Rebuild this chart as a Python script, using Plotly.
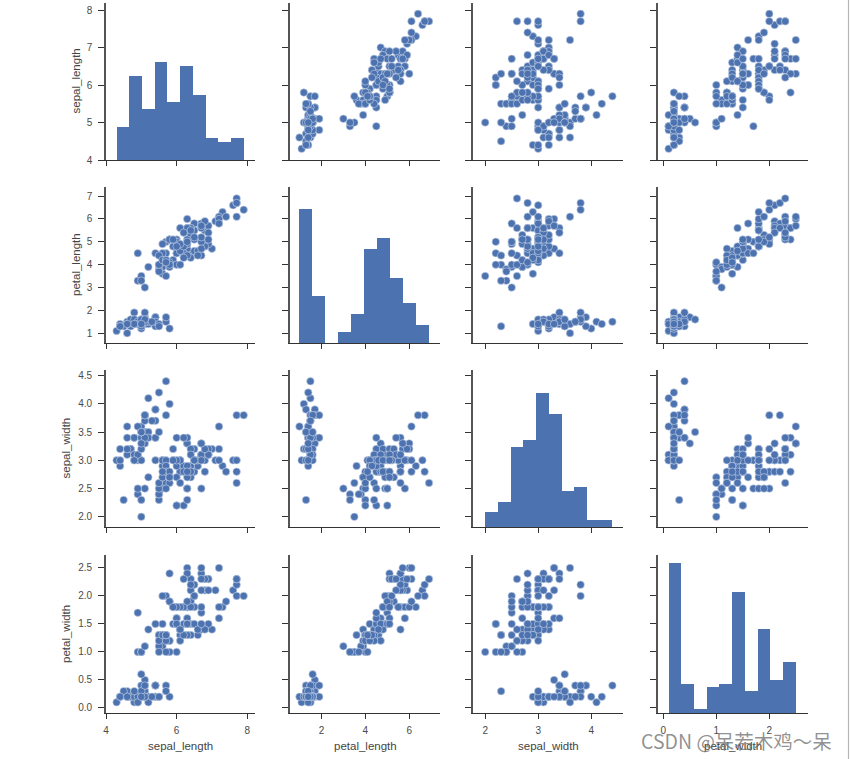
import numpy as np
import plotly.graph_objects as go

sepal_length = [5.1,4.9,4.7,4.6,5.0,5.4,4.6,5.0,4.4,4.9,5.4,4.8,4.8,4.3,5.8,5.7,5.4,5.1,5.7,5.1,5.4,5.1,4.6,5.1,4.8,5.0,5.0,5.2,5.2,4.7,4.8,5.4,5.2,5.5,4.9,5.0,5.5,4.9,4.4,5.1,5.0,4.5,4.4,5.0,5.1,4.8,5.1,4.6,5.3,5.0,
7.0,6.4,6.9,5.5,6.5,5.7,6.3,4.9,6.6,5.2,5.0,5.9,6.0,6.1,5.6,6.7,5.6,5.8,6.2,5.6,5.9,6.1,6.3,6.1,6.4,6.6,6.8,6.7,6.0,5.7,5.5,5.5,5.8,6.0,5.4,6.0,6.7,6.3,5.6,5.5,5.5,6.1,5.8,5.0,5.6,5.7,5.7,6.2,5.1,5.7,
6.3,5.8,7.1,6.3,6.5,7.6,4.9,7.3,6.7,7.2,6.5,6.4,6.8,5.7,5.8,6.4,6.5,7.7,7.7,6.0,6.9,5.6,7.7,6.3,6.7,7.2,6.2,6.1,6.4,7.2,7.4,7.9,6.4,6.3,6.1,7.7,6.3,6.4,6.0,6.9,6.7,6.9,5.8,6.8,6.7,6.7,6.3,6.5,6.2,5.9]
sepal_width = [3.5,3.0,3.2,3.1,3.6,3.9,3.4,3.4,2.9,3.1,3.7,3.4,3.0,3.0,4.0,4.4,3.9,3.5,3.8,3.8,3.4,3.7,3.6,3.3,3.4,3.0,3.4,3.5,3.4,3.2,3.1,3.4,4.1,4.2,3.1,3.2,3.5,3.6,3.0,3.4,3.5,2.3,3.2,3.5,3.8,3.0,3.8,3.2,3.7,3.3,
3.2,3.2,3.1,2.3,2.8,2.8,3.3,2.4,2.9,2.7,2.0,3.0,2.2,2.9,2.9,3.1,3.0,2.7,2.2,2.5,3.2,2.8,2.5,2.8,2.9,3.0,2.8,3.0,2.9,2.6,2.4,2.4,2.7,2.7,3.0,3.4,3.1,2.3,3.0,2.5,2.6,3.0,2.6,2.3,2.7,3.0,2.9,2.9,2.5,2.8,
3.3,2.7,3.0,2.9,3.0,3.0,2.5,2.9,2.5,3.6,3.2,2.7,3.0,2.5,2.8,3.2,3.0,3.8,2.6,2.2,3.2,2.8,2.8,2.7,3.3,3.2,2.8,3.0,2.8,3.0,2.8,3.8,2.8,2.8,2.6,3.0,3.4,3.1,3.0,3.1,3.1,3.1,2.7,3.2,3.3,3.0,2.5,3.0,3.4,3.0]
petal_length = [1.4,1.4,1.3,1.5,1.4,1.7,1.4,1.5,1.4,1.5,1.5,1.6,1.4,1.1,1.2,1.5,1.3,1.4,1.7,1.5,1.7,1.5,1.0,1.7,1.9,1.6,1.6,1.5,1.4,1.6,1.6,1.5,1.5,1.4,1.5,1.2,1.3,1.4,1.3,1.5,1.3,1.3,1.3,1.6,1.9,1.4,1.6,1.4,1.5,1.4,
4.7,4.5,4.9,4.0,4.6,4.5,4.7,3.3,4.6,3.9,3.5,4.2,4.0,4.7,3.6,4.4,4.5,4.1,4.5,3.9,4.8,4.0,4.9,4.7,4.3,4.4,4.8,5.0,4.5,3.5,3.8,3.7,3.9,5.1,4.5,4.5,4.7,4.4,4.1,4.0,4.4,4.6,4.0,3.3,4.2,4.2,4.2,4.3,3.0,4.1,
6.0,5.1,5.9,5.6,5.8,6.6,4.5,6.3,5.8,6.1,5.1,5.3,5.5,5.0,5.1,5.3,5.5,6.7,6.9,5.0,5.7,4.9,6.7,4.9,5.7,6.0,4.8,4.9,5.6,5.8,6.1,6.4,5.6,5.1,5.6,6.1,5.6,5.5,4.8,5.4,5.6,5.1,5.1,5.9,5.7,5.2,5.0,5.2,5.4,5.1]
petal_width = [0.2,0.2,0.2,0.2,0.2,0.4,0.3,0.2,0.2,0.1,0.2,0.2,0.1,0.1,0.2,0.4,0.4,0.3,0.3,0.3,0.2,0.4,0.2,0.5,0.2,0.2,0.4,0.2,0.2,0.2,0.2,0.4,0.1,0.2,0.2,0.2,0.2,0.1,0.2,0.2,0.3,0.3,0.2,0.6,0.4,0.3,0.2,0.2,0.2,0.2,
1.4,1.5,1.5,1.3,1.5,1.3,1.6,1.0,1.3,1.4,1.0,1.5,1.0,1.4,1.3,1.4,1.5,1.0,1.5,1.1,1.8,1.3,1.5,1.2,1.3,1.4,1.4,1.7,1.5,1.0,1.1,1.0,1.2,1.6,1.5,1.6,1.5,1.3,1.3,1.3,1.2,1.4,1.2,1.0,1.3,1.2,1.3,1.3,1.1,1.3,
2.5,1.9,2.1,1.8,2.2,2.1,1.7,1.8,1.8,2.5,2.0,1.9,2.1,2.0,2.4,2.3,1.8,2.2,2.3,1.5,2.3,2.0,2.0,1.8,2.1,1.8,1.8,1.8,2.1,1.6,1.9,2.0,2.2,1.5,1.4,2.3,2.4,1.8,1.8,2.1,2.4,2.3,1.9,2.3,2.5,2.3,1.9,2.0,2.3,1.8]

names = ["sepal_length", "petal_length", "sepal_width", "petal_width"]
data = [sepal_length, petal_length, sepal_width, petal_width]
x_ranges = [(4.0, 8.22), (0.57, 7.4), (1.77, 4.6), (-0.1, 2.73)]
y_ranges = [(4.0, 8.19), (0.57, 7.4), (1.82, 4.6), (-0.09, 2.73)]
x_ticks = [[4, 6, 8], [2, 4, 6], [2, 3, 4], [0, 1, 2]]
y_ticks = [[4, 5, 6, 7, 8], [1, 2, 3, 4, 5, 6, 7],
           [2.0, 2.5, 3.0, 3.5, 4.0, 4.5], [0.0, 0.5, 1.0, 1.5, 2.0, 2.5]]
col_px = [(106, 255), (290, 440), (473, 623), (658, 808)]
row_px = [(3, 160), (187, 343), (370, 527), (555, 713)]
ytitle_px = [75, 76, 65, 66]
W, H = 850, 759
ML, MR, MT, MB = 60, 20, 0, 40
BLUE = "#4C72B0"
count_top = 43.2

def fx(px):
    return (px - ML) / (W - ML - MR)

def fy(px):
    return 1 - (px - MT) / (H - MT - MB)

fig = go.Figure()
layout = dict(
    width=W, height=H, margin=dict(l=ML, r=MR, t=MT, b=MB), autosize=False,
    paper_bgcolor="white", plot_bgcolor="white", showlegend=False,
    bargap=0, hovermode=False,
    font=dict(family="Liberation Sans, Arial, sans-serif", size=10, color="#444444"),
)
tickfont = dict(size=10, color="#4a4a4a", family="Liberation Sans, Arial, sans-serif")
titlefont = dict(size=11.5, color="#444444", family="Liberation Sans, Arial, sans-serif")
annotations = []

for r in range(4):
    for c in range(4):
        k = r * 4 + c + 1
        sfx = "" if k == 1 else str(k)
        layout["xaxis" + sfx] = dict(
            domain=[fx(col_px[c][0]), fx(col_px[c][1])], anchor="y" + sfx,
            range=list(x_ranges[c]), tickmode="array", tickvals=x_ticks[c],
            ticktext=[str(v) for v in x_ticks[c]] if r == 3 else ["" for _ in x_ticks[c]],
            showgrid=False, zeroline=False, showline=True, linecolor="#333333", linewidth=1.2,
            ticks="outside", ticklen=5, tickwidth=1, tickcolor="#333333", tickfont=tickfont,
            ticklabelstandoff=3,
        )
        layout["yaxis" + sfx] = dict(
            domain=[fy(row_px[r][1]), fy(row_px[r][0])], anchor="x" + sfx,
            range=list(y_ranges[r]), tickmode="array", tickvals=y_ticks[r],
            ticktext=[(f"{v:.1f}" if r >= 2 else str(v)) for v in y_ticks[r]] if c == 0 else ["" for _ in y_ticks[r]],
            showgrid=False, zeroline=False, showline=True, linecolor="#555555", linewidth=1.6,
            ticks="outside", ticklen=6, tickwidth=1, tickcolor="#333333", tickfont=tickfont,
            ticklabelstandoff=4,
        )
        if r == c:
            hsfx = str(100 + k)
            layout["yaxis" + hsfx] = dict(
                domain=[fy(row_px[r][1]), fy(row_px[r][0])], anchor="x" + sfx,
                overlaying="y" + sfx, range=[0, count_top], visible=False,
            )
            # Invisible trace keeps the diagonal panel's own axes alive.
            fig.add_trace(go.Scatter(
                x=data[c], y=data[r], mode="markers", xaxis="x" + sfx, yaxis="y" + sfx,
                marker=dict(opacity=0, size=1),
            ))
            counts, edges = np.histogram(data[c], bins=10)
            fig.add_trace(go.Bar(
                x=(edges[:-1] + edges[1:]) / 2, y=counts, width=edges[1:] - edges[:-1],
                xaxis="x" + sfx, yaxis="y" + hsfx,
                marker=dict(color=BLUE, line=dict(width=0)),
            ))
        else:
            fig.add_trace(go.Scatter(
                x=data[c], y=data[r], mode="markers", xaxis="x" + sfx, yaxis="y" + sfx,
                cliponaxis=False,
                marker=dict(color=BLUE, size=7.5, line=dict(color="#c9d5e8", width=0.6)),
            ))

for c in range(4):
    annotations.append(dict(
        text=names[c], xref="paper", yref="paper",
        x=fx((col_px[c][0] + col_px[c][1]) / 2), y=fy(746),
        xanchor="center", yanchor="middle", showarrow=False, font=titlefont,
    ))
for r in range(4):
    annotations.append(dict(
        text=names[r], xref="paper", yref="paper",
        x=fx(ytitle_px[r]), y=fy((row_px[r][0] + row_px[r][1]) / 2),
        xanchor="center", yanchor="middle", textangle=-90, showarrow=False, font=titlefont,
    ))
annotations.append(dict(
    text="CSDN @呆若木鸡～呆", xref="paper", yref="paper", x=fx(834), y=fy(740),
    xanchor="right", yanchor="middle", showarrow=False,
    font=dict(family="Noto Sans CJK SC, Noto Sans", size=19.5, color="rgba(110,110,110,0.75)"),
))
layout["annotations"] = annotations
layout["shapes"] = [dict(type="line", xref="paper", yref="paper",
                         x0=fx(848.5), x1=fx(848.5), y0=fy(H), y1=fy(0),
                         line=dict(color="#b5b5b5", width=1.2))]
fig.update_layout(**layout)
fig.write_html("out.html", config={"displayModeBar": False},
               post_script="document.body.style.margin='0';document.body.style.overflow='hidden';")
